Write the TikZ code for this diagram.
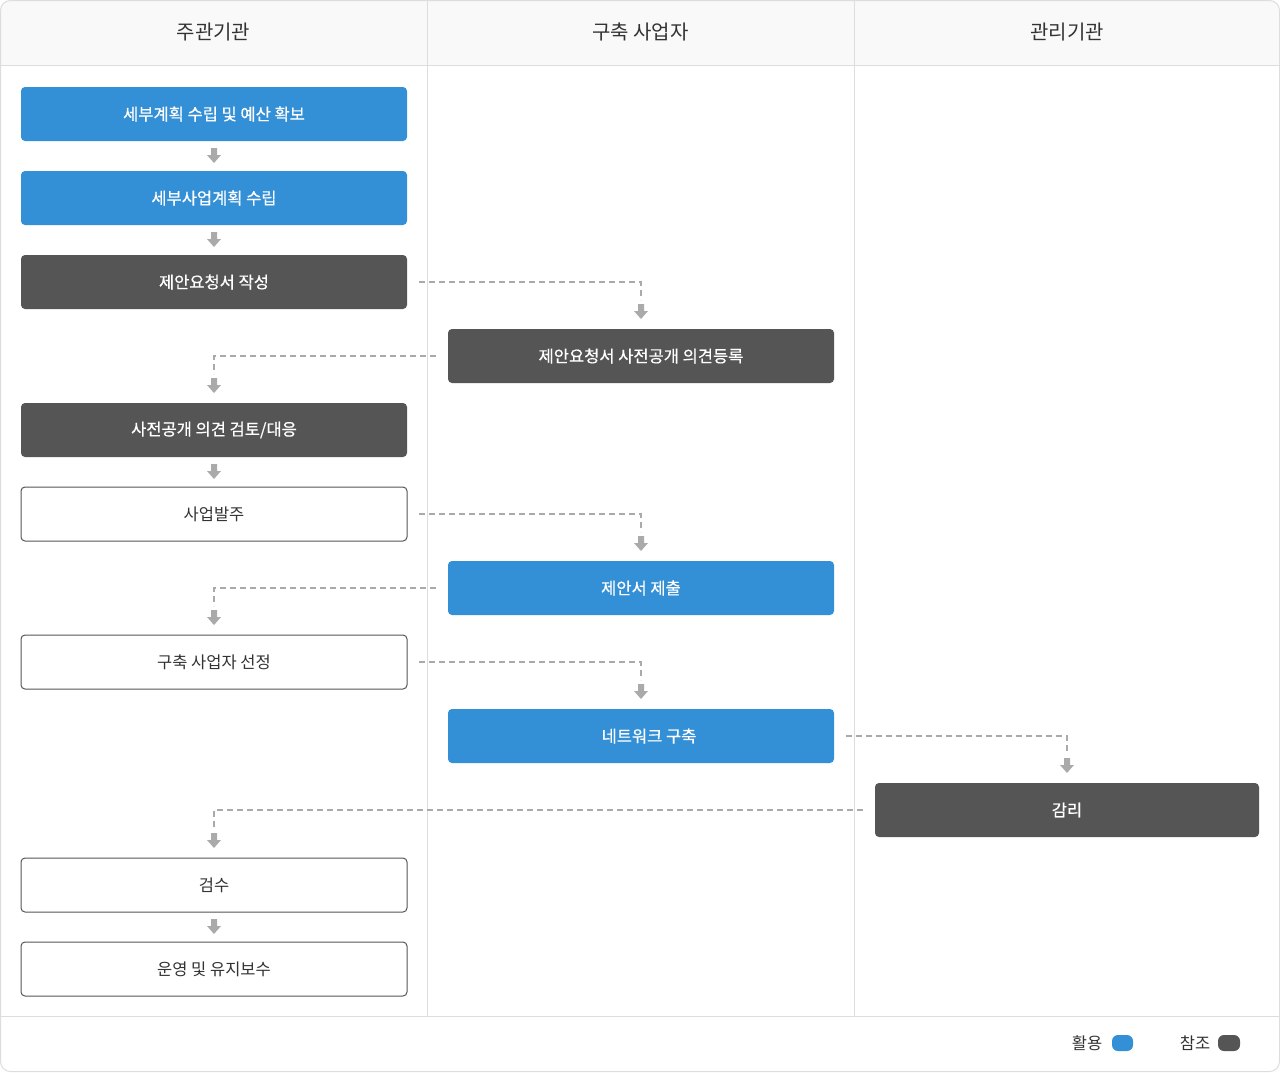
\documentclass[tikz,border=0pt]{standalone}
\usepackage{fontspec}
\setmainfont{Noto Sans CJK KR}
\newfontfamily\boxbold[FakeBold=0.6]{Noto Sans CJK KR}
\usetikzlibrary{calc}
\definecolor{cblue}{HTML}{3490D6}
\definecolor{cdark}{HTML}{555555}
\definecolor{cline}{HTML}{DDDDDD}
\definecolor{carrow}{HTML}{AAAAAA}
\definecolor{ctext}{HTML}{333333}
\definecolor{chead}{HTML}{F9F9F9}
\begin{document}
\begin{tikzpicture}[x=1pt,y=-1pt,
  box/.style={rounded corners=4pt, minimum width=386pt, minimum height=54pt, inner sep=0pt, outer sep=0pt, font=\fontsize{16.5}{20}\selectfont, anchor=north west},
  bluebox/.style={box, fill=cblue, text=white, font=\boxbold\fontsize{16.5}{20}\selectfont},
  darkbox/.style={box, fill=cdark, text=white, font=\boxbold\fontsize{16.5}{20}\selectfont},
  whitebox/.style={box, fill=white, draw=cdark, line width=1pt, text=ctext},
  headlabel/.style={font=\fontsize{20}{24}\selectfont, text=ctext, inner sep=0pt},
  legendlabel/.style={font=\fontsize{16.5}{20}\selectfont, text=ctext, inner sep=0pt},
  dashline/.style={draw=carrow, line width=1.5pt, dash pattern=on 6pt off 4pt},
  gridline/.style={draw=cline, line width=1pt},
  dnarrow/.pic={\fill[carrow] (-3,-15) -- (3,-15) -- (3,-8) -- (7,-8) -- (0,0) -- (-7,-8) -- (-3,-8) -- cycle;}
]
\useasboundingbox (0,0) rectangle (1280,1072);
% frame
\fill[white, rounded corners=10pt] (0.5,0.5) rectangle (1279.5,1071.5);
\begin{scope}
  \clip[rounded corners=10pt] (0.5,0.5) rectangle (1279.5,1071.5);
  \fill[chead] (0,0) rectangle (1280,65.5);
\end{scope}
\draw[gridline] (0.5,65.5) -- (1279.5,65.5);
\draw[gridline] (0.5,1016.5) -- (1279.5,1016.5);
\draw[gridline] (427.5,0.5) -- (427.5,1016.5);
\draw[gridline] (854.5,0.5) -- (854.5,1016.5);
\draw[gridline, rounded corners=10pt] (0.5,0.5) rectangle (1279.5,1071.5);
% headers
\node[headlabel] (h1) at (213.5,32) {주관기관};
\node[headlabel] (h2) at (640.5,32) {구축 사업자};
\node[headlabel] (h3) at (1067,32) {관리기관};
% boxes
\node[bluebox]  (n1) at (21,87)  {세부계획 수립 및 예산 확보};
\node[bluebox]  (n2) at (21,171) {세부사업계획 수립};
\node[darkbox]  (n3) at (21,255) {제안요청서 작성};
\node[darkbox]  (p1) at (448,329) {제안요청서 사전공개 의견등록};
\node[darkbox]  (n4) at (21,403) {사전공개 의견 검토/대응};
\node[whitebox] (n5) at (21,487) {사업발주};
\node[bluebox]  (p2) at (448,561) {제안서 제출};
\node[whitebox] (n6) at (21,635) {구축 사업자 선정};
\node[bluebox]  (p3) at (448,709) {\hspace*{16pt}네트워크 구축};
\node[darkbox, minimum width=384pt] (m1) at (875,783) {감리};
\node[whitebox] (n7) at (21,858) {검수};
\node[whitebox] (n8) at (21,942) {운영 및 유지보수};
% solid step arrows
\pic at ([yshift=8pt]n2.north) {dnarrow};
\pic at ([yshift=8pt]n3.north) {dnarrow};
\pic at ([yshift=8pt]n5.north) {dnarrow};
\pic at ([yshift=8pt]n8.north) {dnarrow};
% dashed connectors
\draw[dashline] ([xshift=12pt]n3.east) -| ([yshift=29pt]p1.north);
\pic at ([yshift=10pt]p1.north) {dnarrow};
\draw[dashline] ([xshift=-12pt]p1.west) -| ([yshift=29pt]n4.north);
\pic at ([yshift=10pt]n4.north) {dnarrow};
\draw[dashline] ([xshift=12pt]n5.east) -| ([yshift=29pt]p2.north);
\pic at ([yshift=10pt]p2.north) {dnarrow};
\draw[dashline] ([xshift=-12pt]p2.west) -| ([yshift=29pt]n6.north);
\pic at ([yshift=10pt]n6.north) {dnarrow};
\draw[dashline] ([xshift=12pt]n6.east) -| ([yshift=29pt]p3.north);
\pic at ([yshift=10pt]p3.north) {dnarrow};
\draw[dashline] ([xshift=12pt]p3.east) -| ([yshift=29pt]m1.north);
\pic at ([yshift=10pt]m1.north) {dnarrow};
\draw[dashline] ([xshift=-12pt]m1.west) -| ([yshift=29pt]n7.north);
\pic at ([yshift=10pt]n7.north) {dnarrow};
% legend
\node[legendlabel] (l1) at (1087,1043) {활용};
\fill[cblue, rounded corners=6pt] (1112,1035) rectangle (1133,1051);
\node[legendlabel] (l2) at (1195,1043) {참조};
\fill[cdark, rounded corners=6pt] (1218,1035) rectangle (1240,1051);
\end{tikzpicture}
\end{document}
